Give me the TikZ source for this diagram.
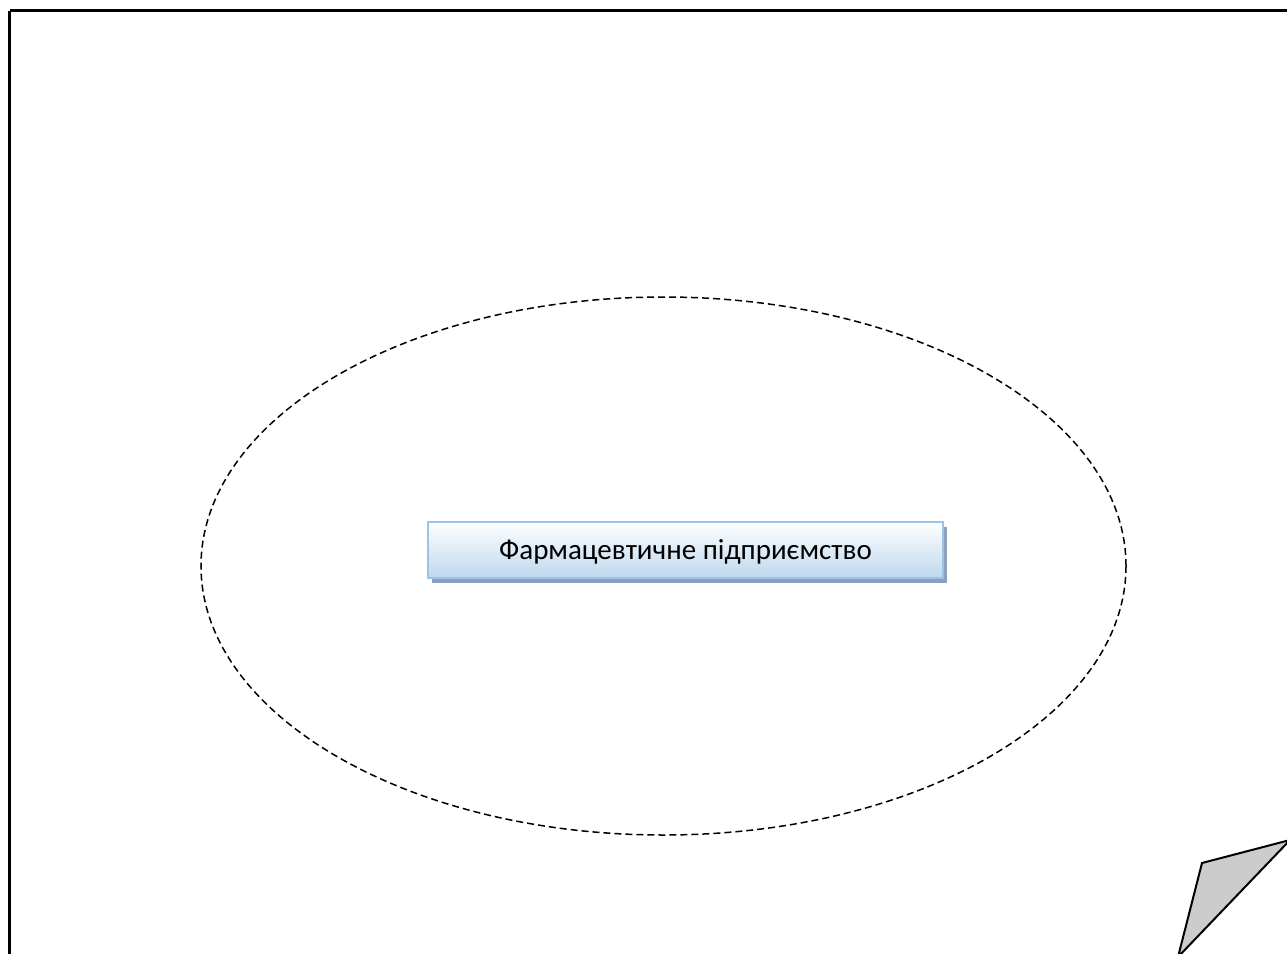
\documentclass[tikz,border=0pt]{standalone}
\usepackage{fontspec}
\setmainfont{Carlito}
\usetikzlibrary{shapes.geometric}
\definecolor{boxline}{RGB}{157,195,230}
\definecolor{boxfill}{RGB}{190,215,238}
\definecolor{boxshadow}{RGB}{140,160,190}
\definecolor{curlgray}{RGB}{204,204,204}
\begin{document}
\begin{tikzpicture}[x=1bp,y=-1bp,
  frame/.style={draw=black,line width=2.2bp},
  zone/.style={draw=black,line width=1.5bp,dash pattern=on 7bp off 4bp},
  unit/.style={draw=boxline,line width=1.8bp,
    top color=white,bottom color=boxfill,text depth=0pt,
    minimum width=515bp,minimum height=56bp,inner sep=0pt,font=\fontsize{29bp}{34bp}\selectfont},
  curl/.style={draw=black,line width=2bp,fill=curlgray,line join=miter}]
\useasboundingbox (0,0) rectangle (1287,954);
\begin{scope}
\clip (0,0) rectangle (1287,954);
\draw[frame] (9.5,10.5) -- (1300,10.5);
\draw[frame] (9.5,10.5) -- (9.5,970);
\node[zone,ellipse,minimum width=925bp,minimum height=538bp] (zone) at (663.5,566) {};
\fill[boxshadow] (432,527) rectangle (947,583);
\node[unit] (firm) at (685.5,550) {Фармацевтичне підприємство};
\coordinate (c1) at (1290,840);
\coordinate (c2) at (1202,863);
\coordinate (c3) at (1178,957);
\draw[curl] (c1) -- (c2) -- (c3) -- cycle;
\end{scope}
\end{tikzpicture}
\end{document}
